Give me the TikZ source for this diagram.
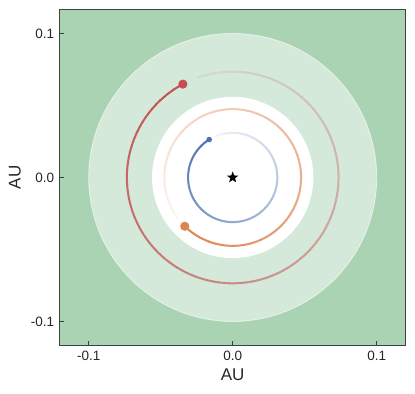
\documentclass[tikz,border=0pt]{standalone}
\usepackage{fontspec}
\setmainfont{Liberation Sans}
\usetikzlibrary{shapes.geometric}
\definecolor{bggreen}{HTML}{AAD3B3}
\definecolor{hzgreen}{HTML}{D4E9D9}
\definecolor{sred}{HTML}{C44E52}
\definecolor{sorange}{HTML}{DD8452}
\definecolor{sblue}{HTML}{4C72B0}
\begin{document}
\begin{tikzpicture}[x=1440bp,y=1440bp,
  ticklabel/.style={font=\fontsize{13.5bp}{16bp}\selectfont, text=black!85, inner sep=0pt},
  axlabel/.style={font=\fontsize{17bp}{20bp}\selectfont, text=black!85, inner sep=0pt},
  frameline/.style={draw=black!75, line width=1bp},
  trail/.style={line width=2bp}]
\useasboundingbox (-0.16160,-0.15035) rectangle (0.12660,0.12326);
% background and zones
\fill[bggreen] (-0.12,-0.1168) rectangle (0.12,0.117);
\fill[hzgreen] (0,0) circle (0.1);
\draw[white, opacity=0.6, line width=0.8bp] (0,0) circle (0.1);
\fill[white] (0,0) circle (0.056);
% fading trails
\foreach \col/\bgc/\r/\a in {sblue/white/0.031/121.8, sorange/white/0.0475/225.5, sred/hzgreen/0.0735/118.1}{
  \foreach \i in {0,...,116}{
    \pgfmathsetmacro\p{100*(1-0.92*\i/117)}
    \pgfmathsetmacro\s{\a+3*\i}
    \pgfmathsetmacro\e{\s+3.4}
    \draw[trail, color=\col!\p!\bgc] (\s:\r) arc[start angle=\s, end angle=\e, radius=\r];
  }
}
% planets
\fill[sblue] (121.8:0.031) circle (2.8bp);
\fill[sorange] (225.5:0.0475) circle (4.6bp);
\fill[sred] (118.1:0.0735) circle (4.6bp);
% star
\node[star, star points=5, star point ratio=2.4, fill=black, minimum size=12bp, inner sep=0pt] (star) at (0,0) {};
% frame
\draw[frameline] (-0.12,-0.1168) rectangle (0.12,0.117);
\foreach \t/\l [count=\k] in {-0.1/-0.1, 0/0.0, 0.1/0.1}{
  \draw[frameline] (\t,-0.1168) -- ++(0,4.5bp);
  \draw[frameline] (-0.12,\t) -- ++(4.5bp,0);
  \node[ticklabel, anchor=base] (xt\k) at (\t,-0.1274) {\l};
  \node[ticklabel, anchor=east] (yt\k) at (-0.1238,\t) {\l};
}
\node[axlabel, anchor=base] (xlab) at (0,-0.1413) {AU};
\node[axlabel, rotate=90, anchor=base] (ylab) at (-0.1472,0) {AU};
\end{tikzpicture}
\end{document}
